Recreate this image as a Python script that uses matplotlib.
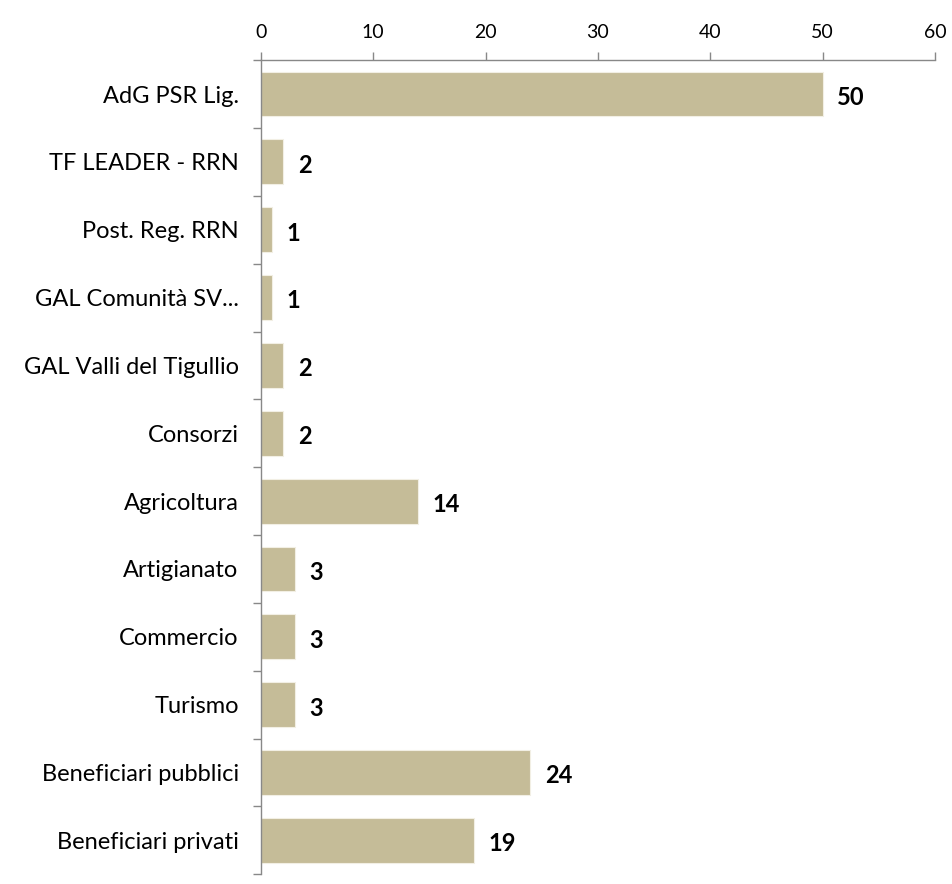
import numpy as np
import matplotlib
import matplotlib.pyplot as plt

matplotlib.rcParams['font.family'] = ['Lato', 'DejaVu Sans']

categories = ['AdG PSR Lig.', 'TF LEADER - RRN', 'Post. Reg. RRN', 'GAL Comunità SV...',
              'GAL Valli del Tigullio', 'Consorzi', 'Agricoltura', 'Artigianato',
              'Commercio', 'Turismo', 'Beneficiari pubblici', 'Beneficiari privati']
values = [50, 2, 1, 1, 2, 2, 14, 3, 3, 3, 24, 19]
xticks = [0, 10, 20, 30, 40, 50, 60]

fig = plt.figure(figsize=(9.52, 8.84), dpi=100)
ax = fig.add_axes([0.274, 0.011, 0.708, 0.921])

y = np.arange(len(categories))
ax.barh(y, values, height=0.66, color='#c5bc98', edgecolor='#f2efe4', linewidth=0.8)

for yi, v in zip(y, values):
    ax.text(v + 1.3, yi + 0.05, str(v), va='center', ha='left',
            fontsize=17, fontweight='bold', color='black')

ax.set_xlim(0, 60)
ax.set_ylim(len(categories) - 0.5, -0.5)
ax.xaxis.tick_top()
ax.set_xticks(xticks)
ax.tick_params(axis='x', direction='out', length=6, width=1, color='#888888',
               labelsize=14, pad=8)

ax.set_yticks(y)
ax.set_yticklabels(categories, fontsize=17)
ax.set_yticks(np.arange(-0.5, len(categories), 1), minor=True)
ax.tick_params(axis='y', which='major', length=0, pad=16)
ax.tick_params(axis='y', which='minor', length=6, width=1, color='#888888')

for s in ['right', 'bottom']:
    ax.spines[s].set_visible(False)
for s in ['left', 'top']:
    ax.spines[s].set_color('#888888')
    ax.spines[s].set_linewidth(1)

fig.savefig('out.png', dpi=100)
